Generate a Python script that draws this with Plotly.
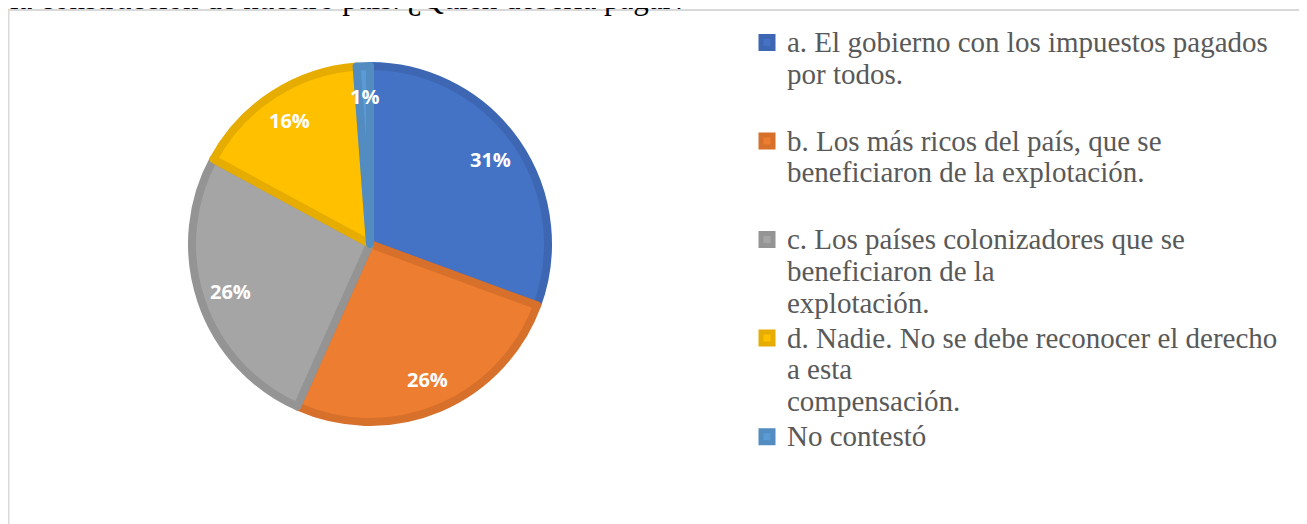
import math
import plotly.graph_objects as go

# page offset of the figure (body margin) and figure size
OFF = 8
W, H = 1307 - OFF, 524 - OFF

legend_lines = [
    ["a. El gobierno con los impuestos pagados", "por todos.", "\u00a0"],
    ["b. Los más ricos del país, que se", "beneficiaron de la explotación.", "\u00a0"],
    ["c. Los países colonizadores que se", "beneficiaron de la", "explotación."],
    ["d. Nadie. No se debe reconocer el derecho", "a esta", "compensación."],
    ["No contestó"],
]
values = [30.6, 26.1, 26.2, 15.9, 1.2]
fill_colors = ["#4472C4", "#ED7D31", "#A5A5A5", "#FFC000", "#5B9BD5"]
line_colors = ["#3E67B3", "#D6702B", "#949494", "#E6AC00", "#528CC0"]
title_text = "la construcción de nuestro país. ¿Quién debería pagar?"

GLYPH = 29
labels = ["<br>".join(f'<span style="font-size:{GLYPH}px">{t}</span>' for t in ls)
          for ls in legend_lines]


def px(x):
    return (x - OFF) / W


def py(y):
    return 1 - (y - OFF) / H


# pie geometry (reference page pixels)
cx, cy, r_out, lw = 370, 244, 182, 8
r = r_out - lw / 2

fig = go.Figure(go.Pie(
    labels=labels,
    values=values,
    sort=False,
    direction="clockwise",
    rotation=0,
    textinfo="none",
    hoverinfo="percent",
    marker=dict(colors=fill_colors, line=dict(color=line_colors, width=lw)),
    domain=dict(x=[px(cx - r), px(cx + r)], y=[py(cy + r), py(cy - r)]),
))

# percentage labels placed along each slice's mid-angle
total = sum(values)
ann = []
cum = 0
R = 0.81 * r_out
for v in values:
    m = (cum + v / 2) / total
    cum += v
    th = 2 * math.pi * m
    ann.append(dict(
        x=px(cx + R * math.sin(th)), y=py(cy - R * math.cos(th)),
        xref="paper", yref="paper",
        text=f"<b>{round(v / total * 100)}%</b>", showarrow=False,
        font=dict(family="Open Sans", size=20, color="white"),
        xanchor="center", yanchor="middle",
    ))

ann.append(dict(
    x=0, y=py(18), xref="paper", yref="paper", xanchor="left", yanchor="bottom",
    text=title_text, showarrow=False,
    font=dict(family="Liberation Serif", size=31, color="black"),
))

fig.update_layout(
    width=W, height=H,
    margin=dict(l=0, r=0, t=0, b=0),
    paper_bgcolor="white",
    showlegend=True,
    legend=dict(
        x=px(747), y=py(20), xanchor="left", yanchor="top",
        font=dict(family="Liberation Serif", size=24.5, color="#595959"),
        valign="top", traceorder="normal", bgcolor="rgba(0,0,0,0)",
    ),
    annotations=ann,
    shapes=[dict(
        type="rect", xref="paper", yref="paper",
        x0=px(8.5), x1=1.2, y0=-0.2, y1=py(10),
        line=dict(color="#D9D9D9", width=2), fillcolor="rgba(0,0,0,0)", layer="below",
    )],
)

fig.write_html("out.html")
